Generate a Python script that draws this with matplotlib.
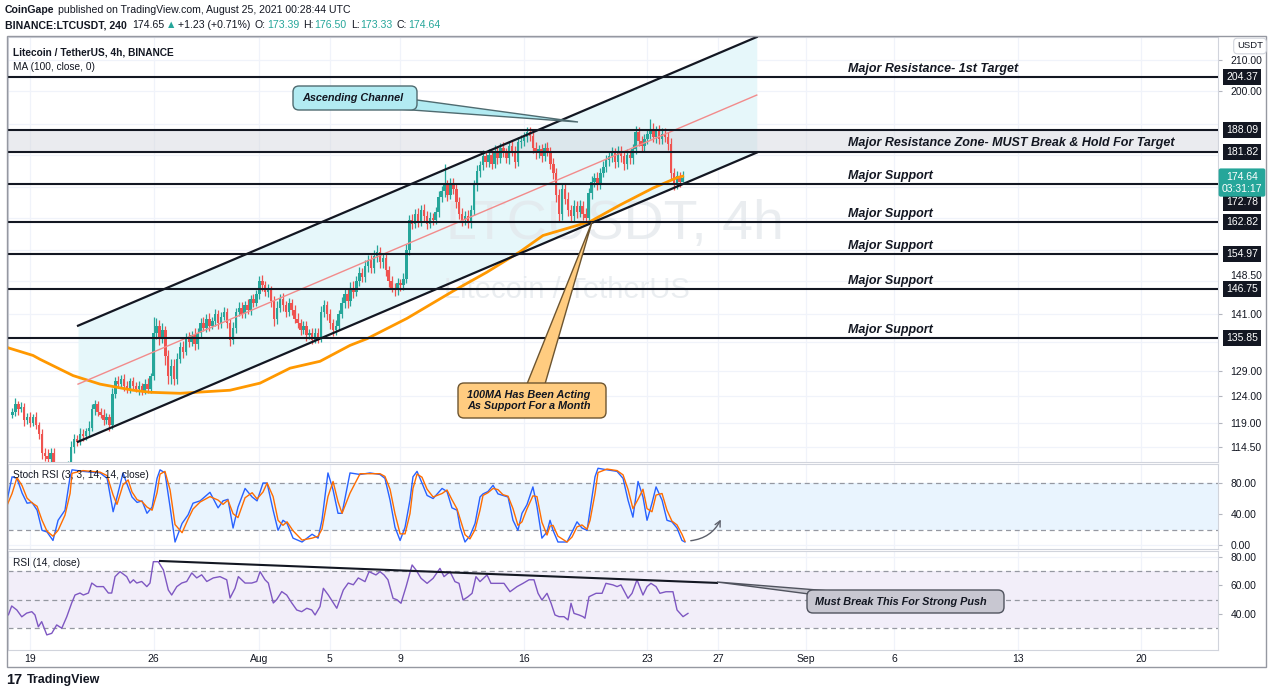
import numpy as np
import matplotlib
matplotlib.use('Agg')
import matplotlib.pyplot as plt
from matplotlib.patches import FancyBboxPatch, Polygon, Rectangle
from matplotlib.ticker import FixedLocator, NullFormatter, FuncFormatter

plt.rcParams['font.family'] = ['Liberation Sans', 'DejaVu Sans']

# time unit: days since 2021-07-19 00:00 UTC, one candle = 4h
start_t = -1.0          # first candle Jul 18 00:00
first_open = 120.5

# 4h closes, one row per day (Jul 18 .. Aug 24) + the live Aug 25 candle
closes = [
    121.0, 122.5, 121.5, 122.0, 119.5, 120.0,   # Jul 18
    119.0, 120.0, 118.5, 117.0, 113.5, 113.0,   # Jul 19
    112.5, 113.5, 110.0, 107.0, 106.0, 107.5,   # Jul 20
    108.5, 111.0, 114.5, 116.0, 115.5, 117.0,   # Jul 21
    116.5, 117.5, 118.0, 121.5, 122.5, 121.0,   # Jul 22
    120.5, 119.5, 120.0, 118.5, 124.5, 127.0,   # Jul 23
    126.5, 127.5, 126.0, 125.5, 127.0, 126.0,   # Jul 24
    125.5, 126.0, 125.0, 126.5, 125.5, 128.0,   # Jul 25
    137.0, 138.5, 136.0, 137.5, 132.0, 128.0,   # Jul 26
    130.0, 127.5, 131.5, 134.0, 133.0, 136.0,   # Jul 27
    135.0, 136.5, 134.5, 137.0, 139.0, 138.0,   # Jul 28
    140.0, 138.5, 139.5, 141.0, 139.0, 140.5,   # Jul 29
    141.5, 139.0, 135.5, 138.0, 141.5, 142.5,   # Jul 30
    141.0, 143.0, 142.0, 144.5, 143.5, 145.5,   # Jul 31
    148.5, 147.5, 146.0, 146.5, 144.0, 140.0,   # Aug 1
    142.5, 144.5, 143.0, 141.5, 143.5, 142.0,   # Aug 2
    140.0, 139.0, 137.5, 138.5, 136.5, 137.0,   # Aug 3
    135.5, 137.0, 136.0, 141.5, 143.0, 141.0,   # Aug 4
    139.0, 137.5, 138.5, 141.0, 143.5, 145.5,   # Aug 5
    144.0, 147.0, 146.0, 148.5, 150.5, 149.5,   # Aug 6
    152.0, 153.5, 151.5, 154.5, 155.5, 153.0,   # Aug 7
    154.0, 151.0, 148.5, 147.0, 146.5, 148.0,   # Aug 8
    147.5, 149.0, 156.0, 163.5, 162.5, 165.0,   # Aug 9
    163.0, 166.0, 164.5, 162.5, 164.0, 163.5,   # Aug 10
    165.5, 169.5, 171.0, 172.5, 170.0, 173.0,   # Aug 11
    171.5, 168.0, 165.0, 163.5, 164.5, 163.0,   # Aug 12
    166.0, 172.5, 176.5, 178.0, 180.5, 179.0,   # Aug 13
    181.0, 178.5, 182.0, 180.0, 183.0, 181.5,   # Aug 14
    180.0, 183.5, 182.0, 179.0, 184.5, 185.0,   # Aug 15
    186.0, 187.5, 186.5, 183.0, 181.5, 182.5,   # Aug 16
    180.5, 183.0, 182.0, 178.5, 176.0, 170.0,   # Aug 17
    165.0, 171.5, 169.0, 166.0, 164.5, 167.0,   # Aug 18
    165.5, 167.0, 165.0, 164.0, 170.5, 173.5,   # Aug 19
    174.5, 173.0, 176.0, 177.5, 179.5, 180.5,   # Aug 20
    181.5, 179.0, 182.0, 180.5, 178.5, 181.0,   # Aug 21
    180.0, 182.5, 187.5, 185.0, 183.5, 185.5,   # Aug 22
    187.0, 188.5, 186.0, 188.0, 185.5, 187.0,   # Aug 23
    186.0, 184.0, 176.0, 173.0, 175.0, 173.39,  # Aug 24
    174.64,                                     # Aug 25
]
wick_up = [
    0.8, 1.2, 0.6, 1.0, 0.7, 0.9,  1.0, 0.7, 1.1, 0.6, 0.9, 0.8,
    1.2, 0.9, 0.8, 1.0, 0.7, 1.1,  0.8, 1.0, 1.2, 0.9, 0.7, 1.0,
    0.9, 0.6, 1.3, 1.0, 0.8, 0.7,  0.7, 1.0, 0.8, 0.6, 1.2, 0.9,
    1.1, 0.8, 0.9, 1.0, 0.7, 0.8,  0.8, 1.0, 0.6, 0.9, 1.1, 0.7,
    3.5, 1.6, 1.2, 1.5, 1.0, 1.3,  1.4, 1.5, 1.2, 1.0, 1.3, 0.9,
    1.2, 0.9, 1.4, 1.0, 1.1, 1.3,  1.0, 1.3, 0.8, 1.2, 0.9, 1.0,
    1.1, 0.9, 1.0, 1.3, 0.8, 1.2,  1.2, 1.0, 1.3, 0.9, 1.1, 1.0,
    1.2, 1.5, 1.1, 1.3, 0.9, 1.2,  1.4, 1.1, 1.3, 0.9, 1.2, 1.0,
    1.0, 1.2, 0.9, 1.1, 1.0, 0.8,  0.9, 1.1, 1.0, 1.3, 1.2, 0.9,
    1.1, 0.9, 1.2, 1.0, 1.3, 1.1,  1.3, 1.2, 1.5, 1.1, 1.4, 1.2,
    1.4, 1.2, 1.3, 1.5, 1.6, 1.2,  1.2, 1.4, 1.1, 1.3, 1.0, 1.2,
    1.1, 1.3, 1.5, 1.2, 1.4, 1.3,  1.5, 1.3, 1.6, 1.2, 1.4, 1.3,
    1.3, 1.5, 1.4, 6.0, 1.6, 1.4,  1.5, 1.4, 1.3, 1.6, 1.2, 1.4,
    1.4, 1.6, 1.5, 1.3, 1.7, 1.5,  1.6, 1.4, 1.7, 1.5, 1.3, 1.6,
    1.5, 1.3, 1.6, 1.4, 1.5, 1.7,  1.6, 1.5, 1.4, 1.6, 1.5, 1.3,
    1.5, 1.4, 1.6, 1.3, 1.5, 1.4,  1.6, 1.4, 1.5, 1.7, 1.3, 1.5,
    1.4, 1.6, 1.3, 1.5, 1.4, 1.6,  1.5, 1.7, 1.4, 1.6, 1.5, 1.3,
    1.7, 1.5, 1.6, 1.4, 1.6, 1.5,  1.4, 1.6, 1.8, 1.5, 1.4, 1.6,
    1.5, 3.0, 1.6, 1.4, 1.5, 1.7,  1.6, 1.5, 1.7, 1.4, 1.5, 1.3,
    1.86,
]
wick_dn = [
    0.6, 0.8, 1.0, 0.5, 1.2, 0.7,  0.8, 0.6, 0.7, 1.0, 1.1, 0.9,
    0.9, 1.5, 2.0, 1.6, 1.8, 0.8,  0.7, 0.9, 0.6, 1.1, 0.8, 0.6,
    0.8, 0.7, 0.9, 0.6, 1.0, 0.8,  0.6, 0.9, 0.7, 1.0, 0.6, 0.8,
    0.9, 0.7, 1.0, 0.8, 0.9, 0.6,  0.7, 1.2, 0.8, 0.6, 0.9, 0.8,
    0.8, 1.4, 1.6, 1.2, 1.8, 1.5,  1.5, 1.2, 1.0, 0.9, 1.3, 0.8,
    1.0, 0.8, 1.1, 0.9, 1.2, 0.7,  0.9, 1.1, 0.8, 1.0, 1.2, 0.9,
    0.8, 1.0, 1.4, 0.9, 1.0, 0.8,  0.9, 0.8, 1.0, 1.1, 0.9, 0.7,
    1.0, 1.2, 0.9, 1.1, 1.3, 1.5,  1.1, 0.9, 1.2, 1.0, 0.8, 1.1,
    0.9, 1.1, 1.0, 0.8, 1.2, 0.9,  1.0, 0.8, 1.1, 0.9, 1.0, 1.2,
    1.2, 1.3, 0.9, 1.0, 0.8, 1.0,  1.5, 1.1, 1.3, 1.0, 1.2, 1.1,
    1.1, 1.3, 1.2, 1.0, 1.4, 1.3,  1.3, 1.2, 1.4, 1.1, 1.5, 1.2,
    1.2, 1.1, 1.0, 1.4, 1.3, 1.2,  1.4, 1.2, 1.5, 1.3, 1.1, 1.4,
    1.2, 1.4, 1.3, 1.5, 1.6, 1.2,  1.3, 1.6, 1.4, 1.5, 1.3, 1.5,
    1.5, 1.3, 1.4, 1.6, 1.2, 1.4,  1.4, 1.6, 1.3, 1.5, 1.4, 1.2,
    1.3, 1.5, 1.4, 1.6, 1.3, 1.5,  1.4, 1.3, 1.5, 1.4, 1.6, 1.5,
    1.6, 1.4, 1.3, 1.5, 1.7, 1.8,  1.8, 1.5, 1.4, 1.6, 1.5, 1.3,
    1.5, 1.4, 1.6, 1.2, 1.3, 1.5,  1.4, 1.6, 1.5, 1.3, 1.4, 1.6,
    1.5, 1.6, 1.4, 1.5, 1.7, 1.4,  1.6, 1.5, 1.4, 1.6, 1.5, 1.4,
    1.4, 1.6, 1.5, 1.7, 1.4, 1.5,  1.5, 1.7, 1.8, 1.6, 1.5, 1.4,
    0.06,
]

# MA(100, close)
ma_t = [-1.25, 0.17, 0.57, 2.44, 3.97, 5.84, 6.8, 8.5, 11.34, 13.04, 14.74, 16.44,
        18.14, 19.1, 21.37, 23.98, 25.9, 27.78, 29.08, 31.75, 33.45, 35.32, 36.68, 37.0]
ma_v = [133.8, 132.2, 131.4, 128.1, 126.4, 125.2, 124.8, 124.6, 125.2, 126.6, 129.6, 131.0,
        134.3, 135.7, 140.1, 146.2, 150.6, 155.5, 159.5, 163.0, 167.3, 171.8, 174.6, 175.0]

# Stoch RSI %K (3, 3, 14, 14)
stoch_t = [-1.42, -1.02, -0.74, -0.45, -0.17, 0.11, 0.40, 0.68, 0.96, 1.30,
           1.59, 1.98, 2.27, 2.38, 3.00, 3.97, 4.37, 4.71, 4.93, 5.27,
           5.56, 5.78, 6.07, 6.35, 6.63, 6.92, 7.20, 7.37, 7.65, 7.94,
           8.22, 8.62, 8.96, 9.24, 9.64, 10.20, 10.66, 10.94, 11.22, 11.51,
           11.79, 12.19, 12.59, 12.87, 13.21, 13.44, 13.78, 14.06, 14.34, 14.57,
           14.91, 15.42, 15.99, 16.33, 16.55, 16.89, 17.18, 17.46, 17.69, 18.14,
           18.71, 19.27, 19.84, 20.12, 20.41, 20.69, 20.98, 21.26, 21.54, 21.71,
           21.94, 22.22, 22.51, 22.85, 23.36, 23.64, 23.92, 24.21, 24.38, 24.66,
           24.94, 25.23, 25.51, 25.68, 25.96, 26.25, 26.53, 26.81, 27.10, 27.38,
           27.66, 27.89, 28.17, 28.51, 28.74, 29.02, 29.31, 29.48, 29.65, 29.93,
           30.44, 30.73, 31.01, 31.29, 31.58, 31.75, 32.03, 32.20, 32.71, 33.28,
           33.62, 33.90, 34.18, 34.47, 34.75, 34.98, 35.26, 35.49, 35.83, 36.11,
           36.39, 36.68, 36.96, 37.13]
stoch_k = [45, 88, 86, 67, 54, 55, 45, 19, 17, 6,
           32, 45, 88, 97, 95, 93, 86, 43, 62, 93,
           75, 62, 55, 57, 41, 49, 86, 97, 93, 49,
           4, 28, 39, 54, 57, 68, 48, 57, 59, 22,
           49, 73, 62, 57, 80, 80, 45, 19, 32, 28,
           9, 4, 14, 9, 32, 93, 71, 41, 41, 93,
           91, 93, 91, 86, 58, 23, 6, 23, 58, 88,
           95, 80, 64, 60, 73, 69, 48, 45, 23, 4,
           12, 28, 62, 66, 69, 77, 66, 64, 62, 32,
           19, 41, 52, 75, 50, 9, 17, 32, 19, 4,
           4, 17, 30, 22, 19, 45, 88, 99, 97, 95,
           86, 58, 36, 82, 62, 32, 54, 75, 58, 32,
           30, 22, 6, 4]

# RSI (14, close)
rsi_t = [-1.42, -1.23, -1.04, -0.75, -0.47, -0.19, 0.10, 0.28, 0.47, 0.66,
         0.95, 1.23, 1.51, 1.80, 2.08, 2.36, 2.55, 2.83, 3.02, 3.31,
         3.50, 3.78, 4.16, 4.44, 4.63, 4.82, 5.10, 5.48, 5.67, 5.86,
         6.05, 6.33, 6.62, 6.80, 6.99, 7.27, 7.56, 7.84, 8.03, 8.32,
         8.60, 8.88, 9.17, 9.45, 9.73, 10.02, 10.39, 10.77, 11.15, 11.34,
         11.62, 11.81, 12.19, 12.57, 12.85, 13.04, 13.32, 13.51, 13.79, 13.98,
         14.27, 14.55, 14.84, 15.12, 15.40, 15.69, 15.97, 16.16, 16.44, 16.63,
         16.91, 17.39, 17.76, 18.04, 18.33, 18.61, 18.99, 19.22, 19.61, 19.84,
         20.07, 20.29, 20.58, 20.80, 21.03, 21.32, 21.66, 21.88, 22.17, 22.51,
         22.85, 23.24, 23.47, 23.81, 24.09, 24.32, 24.55, 24.83, 25.06, 25.28,
         25.51, 25.91, 26.13, 26.47, 26.87, 27.21, 27.61, 27.95, 28.29, 28.57,
         28.80, 29.02, 29.31, 29.54, 29.76, 29.99, 30.27, 30.50, 30.67, 30.84,
         31.12, 31.35, 31.46, 31.69, 32.09, 32.43, 32.65, 33.05, 33.28, 33.50,
         33.90, 34.13, 34.41, 34.75, 34.98, 35.20, 35.49, 35.71, 36.05, 36.45,
         36.68, 37.02, 37.30]
rsi_v = [41.6, 39.3, 45.6, 42.8, 38.0, 40.6, 41.6, 39.3, 31.0, 34.6,
         25.3, 26.4, 32.3, 30.0, 38.0, 47.7, 53.3, 54.7, 53.3, 54.7,
         61.7, 59.2, 59.2, 54.7, 54.7, 66.2, 69.7, 66.2, 61.7, 64.0,
         61.7, 62.8, 59.2, 61.7, 76.7, 76.7, 70.9, 56.8, 53.3, 59.2,
         61.7, 62.8, 68.8, 65.3, 67.5, 62.8, 65.3, 66.2, 64.0, 51.2,
         58.0, 66.2, 61.7, 61.7, 62.8, 69.7, 64.0, 61.7, 47.7, 50.0,
         55.7, 53.3, 47.7, 42.8, 41.6, 44.0, 42.8, 39.3, 45.2, 58.0,
         53.3, 44.0, 56.8, 61.7, 60.5, 65.3, 62.7, 69.7, 67.4, 69.7,
         67.4, 64.0, 51.0, 50.0, 47.5, 59.2, 74.4, 70.9, 65.0, 61.5,
         65.0, 72.0, 66.2, 69.7, 62.7, 61.5, 49.8, 52.1, 54.5, 66.2,
         62.7, 67.4, 61.5, 61.5, 61.5, 55.6, 59.2, 61.5, 64.0, 64.0,
         54.5, 49.8, 54.5, 47.5, 39.3, 38.1, 38.1, 35.8, 47.5, 40.4,
         39.3, 38.1, 37.0, 52.1, 54.5, 54.5, 61.5, 60.4, 59.2, 60.4,
         51.0, 54.5, 64.0, 53.3, 59.2, 61.5, 59.2, 54.5, 55.6, 55.6,
         42.8, 38.1, 40.4]

# drawings
levels = [204.37, 188.09, 181.82, 172.78, 162.82, 154.97, 146.75, 135.85]
support_levels = [172.78, 162.82, 154.97, 146.75, 135.85]
zone = (181.82, 188.09)
chan_t = [2.72, 41.2]
chan_top = [138.5, 217.6]
chan_mid = [126.4, 198.7]
chan_bot = [115.5, 181.6]
rsi_line_t = [7.37, 38.95]
rsi_line_v = [77.2, 61.8]
label_t = 46.37

date_ticks = [0, 7, 13, 17, 21, 28, 35, 39, 44, 49, 56, 63]
date_labels = ['19', '26', 'Aug', '5', '9', '16', '23', '27', 'Sep', '6', '13', '20']
price_ticks = [114.5, 119, 124, 129, 141, 200, 210]
hidden_ticks = [135, 148.5, 156, 164, 172, 181, 190]   # grid only, labels mostly covered
squeezed_tick = 148.5                                   # label nudged above the 146.75 box

UP, DOWN, INK = '#26a69a', '#ef5350', '#131722'

W, H = 1280, 695
fig = plt.figure(figsize=(W / 100, H / 100), dpi=100)


def pbox(x0, y0, x1, y1):
    return [x0 / W, 1 - y1 / H, (x1 - x0) / W, (y1 - y0) / H]


ax = fig.add_axes(pbox(8, 37, 1218, 462))
ax_st = fig.add_axes(pbox(8, 464, 1218, 549))
ax_rsi = fig.add_axes(pbox(8, 551, 1218, 650))
fmt2 = FuncFormatter(lambda v, p: f'{v:.2f}')

ax.set_yscale('log')
ax.set_ylim(111.9, 217.6)
ax.yaxis.set_major_locator(FixedLocator(price_ticks))
ax.yaxis.set_minor_locator(FixedLocator(hidden_ticks))
ax.yaxis.set_minor_formatter(NullFormatter())
ax.tick_params(axis='y', which='minor', length=0)
ax_st.set_ylim(-5, 104.5)
ax_st.yaxis.set_major_locator(FixedLocator([0, 40, 80]))
ax_rsi.set_ylim(14.7, 84.2)
ax_rsi.yaxis.set_major_locator(FixedLocator([40, 60, 80]))

for a in (ax, ax_st, ax_rsi):
    a.set_xlim(-1.25, 67.35)
    a.xaxis.set_major_locator(FixedLocator(date_ticks))
    a.yaxis.set_major_formatter(fmt2)
    a.grid(True, which='both', color='#f0f3fa', lw=0.9)
    a.set_axisbelow(True)
    a.yaxis.tick_right()
    a.tick_params(axis='y', labelsize=7.5, labelcolor=INK, color='#b2b5be', length=3, pad=6)
    a.tick_params(axis='x', length=0, labelbottom=False)
    for s in a.spines.values():
        s.set_color('#d1d4dc')
        s.set_linewidth(0.8)
ax_rsi.tick_params(axis='x', labelbottom=True, labelsize=7.5, labelcolor=INK, pad=3)
ax_rsi.set_xticklabels(date_labels)

# --- price pane ---
ax.fill_between(chan_t, chan_bot, chan_top, color='#e6f7fa', lw=0, zorder=1)
ax.axhspan(zone[0], zone[1], color='#d1d4dc', alpha=0.45, lw=0, zorder=1.2)
ax.text(0.502, 0.558, 'LTCUSDT, 4h', transform=ax.transAxes, ha='center', va='center',
        fontsize=40, color='#e3e8ec', alpha=0.75, zorder=1.4)
ax.text(0.462, 0.405, 'Litecoin / TetherUS', transform=ax.transAxes, ha='center', va='center',
        fontsize=21, color='#e3e8ec', alpha=0.75, zorder=1.4)

n = len(closes)
t = start_t + np.arange(n) / 6
c = np.array(closes)
o = np.r_[first_open, c[:-1]]
hi = np.maximum(o, c) + np.array(wick_up)
lo = np.minimum(o, c) - np.array(wick_dn)
col = np.where(c >= o, UP, DOWN)
ax.vlines(t, lo, hi, colors=col, lw=0.9, zorder=4)
ax.bar(t, np.maximum(np.abs(c - o), 0.2), bottom=np.minimum(o, c), width=0.14,
       color=col, lw=0, zorder=4.5)

ax.plot(ma_t, ma_v, color='#ff9800', lw=2, zorder=5)
ax.plot(chan_t, chan_mid, color='#f28b8b', lw=1, zorder=5.5)
ax.plot(chan_t, chan_top, color=INK, lw=1.6, zorder=6)
ax.plot(chan_t, chan_bot, color=INK, lw=1.6, zorder=6)
for v in levels:
    ax.axhline(v, color=INK, lw=1.5, zorder=6)

lab = dict(fontsize=9, weight='bold', style='italic', color=INK, zorder=7)
ax.annotate('Major Resistance- 1st Target', xy=(label_t, levels[0]), xytext=(0, 2),
            textcoords='offset pixels', va='bottom', **lab)
ax.annotate('Major Resistance Zone- MUST Break & Hold For Target',
            xy=(label_t, np.sqrt(zone[0] * zone[1])), xytext=(0, -2),
            textcoords='offset pixels', va='center', **lab)
for v in support_levels:
    ax.annotate('Major Support', xy=(label_t, v), xytext=(0, 2),
                textcoords='offset pixels', va='bottom', **lab)

ax.annotate(f'{squeezed_tick:.2f}', xy=(1, squeezed_tick), xycoords=('axes fraction', 'data'),
            xytext=(12.5, 5), textcoords='offset pixels', ha='left', va='center',
            fontsize=7.5, color=INK, annotation_clip=False, zorder=19)
for v in levels:
    dy = -18 if v == 172.78 else 0
    ax.annotate(f'{v:.2f}', xy=(1, v), xycoords=('axes fraction', 'data'), xytext=(24, dy),
                textcoords='offset pixels', ha='center', va='center', fontsize=7.5, color='white',
                bbox=dict(boxstyle='square,pad=0.3', fc=INK, ec='none'),
                annotation_clip=False, zorder=20)
ax.annotate(f'{closes[-1]:.2f}\n03:31:17', xy=(1, closes[-1]), xycoords=('axes fraction', 'data'),
            xytext=(24, -5), textcoords='offset pixels', ha='center', va='center', fontsize=7.5,
            color='white', linespacing=1.25,
            bbox=dict(boxstyle='round,pad=0.3,rounding_size=0.2', fc=UP, ec='none'),
            annotation_clip=False, zorder=21)

ax.text(0.004, 0.975, 'Litecoin / TetherUS, 4h, BINANCE', transform=ax.transAxes,
        fontsize=7.3, color=INK, va='top', weight='bold', zorder=8)
ax.text(0.004, 0.94, 'MA (100, close, 0)', transform=ax.transAxes,
        fontsize=7.3, color=INK, va='top', zorder=8)

# --- stoch RSI pane ---
k = np.array(stoch_k, dtype=float)
d = np.r_[k[0], (k[1:] + k[:-1]) / 2]
ax_st.axhspan(20, 80, color='#e9f4fe', lw=0, zorder=0.6)
for v in (80, 20):
    ax_st.axhline(v, color='#9598a1', lw=0.9, ls=(0, (4, 3)), zorder=1)
ax_st.plot(stoch_t, k, color='#2962ff', lw=1, zorder=3)
ax_st.plot(stoch_t, d, color='#ff6d00', lw=1, zorder=3)
ax_st.text(0.004, 0.93, 'Stoch RSI (3, 3, 14, 14, close)', transform=ax_st.transAxes,
           fontsize=7.3, color=INK, va='top', zorder=8)

# --- RSI pane ---
ax_rsi.axhspan(30, 70, color='#f2eef9', lw=0, zorder=0.6)
for v in (70, 50, 30):
    ax_rsi.axhline(v, color='#9598a1', lw=0.9, ls=(0, (4, 3)), zorder=1)
ax_rsi.plot(rsi_t, rsi_v, color='#7e57c2', lw=1, zorder=3)
ax_rsi.plot(rsi_line_t, rsi_line_v, color=INK, lw=1.5, zorder=4)
ax_rsi.text(0.004, 0.93, 'RSI (14, close)', transform=ax_rsi.transAxes,
            fontsize=7.3, color=INK, va='top', zorder=8)

# --- overlay in pixel coordinates ---
ov = fig.add_axes([0, 0, 1, 1], zorder=10)
ov.set_xlim(0, W)
ov.set_ylim(H, 0)
ov.axis('off')
ov.patch.set_alpha(0)

ov.add_patch(Rectangle((7, 36), 1259, 631, fill=False, ec='#9598a1', lw=1))
ov.text(1250, 46, 'USDT', fontsize=6.8, color=INK, ha='center', va='center',
        bbox=dict(boxstyle='round,pad=0.35,rounding_size=0.4', fc='white', ec='#d1d4dc', lw=0.8))

renderer = fig.canvas.get_renderer()


def runs(x, y, parts, size):
    for s, colr, wt, gap in parts:
        tx = ov.text(x, y, s, color=colr, fontsize=size, weight=wt, va='center', ha='left')
        x += tx.get_window_extent(renderer=renderer).width + gap


runs(5, 10, [('CoinGape', INK, 'bold', 3),
             ('published on TradingView.com, August 25, 2021 00:28:44 UTC', INK, 'normal', 0)], 7.6)
runs(5, 25, [('BINANCE:LTCUSDT, 240', INK, 'bold', 5), ('174.65', INK, 'normal', 2),
             ('▲', UP, 'normal', 2), ('+1.23 (+0.71%)', INK, 'normal', 4),
             ('O:', INK, 'normal', 1), ('173.39', UP, 'normal', 4),
             ('H:', INK, 'normal', 1), ('176.50', UP, 'normal', 4),
             ('L:', INK, 'normal', 1), ('173.33', UP, 'normal', 4),
             ('C:', INK, 'normal', 1), ('174.64', UP, 'normal', 0)], 7.6)

ov.text(6, 680, '17', fontsize=10.5, weight='bold', color=INK, va='center')
ov.text(27, 680, 'TradingView', fontsize=9, weight='bold', color=INK, va='center')


def callout(box, tail, fc, ec, lines, tx, ty, dy=11):
    ov.add_patch(Polygon(tail, closed=True, fc=fc, ec=ec, lw=1, zorder=1))
    x0, y0, x1, y1 = box
    ov.add_patch(FancyBboxPatch((x0, y0), x1 - x0, y1 - y0,
                                boxstyle='round,pad=0,rounding_size=6',
                                fc=fc, ec=ec, lw=1, zorder=2))
    for i, s in enumerate(lines):
        ov.text(tx, ty + i * dy, s, fontsize=7.8, weight='bold', style='italic',
                color=INK, va='center', ha='left', zorder=3)


callout((293, 86, 417, 110), [(398, 109), (417, 100), (578, 122)], '#b2ebf2', '#4f6b70',
        ['Ascending Channel'], 302, 98)
callout((458, 383, 606, 418), [(527, 384), (545, 384), (592, 222)], '#ffcc80', '#6d5530',
        ['100MA Has Been Acting', 'As Support For a Month'], 467, 395)
callout((807, 590, 1004, 613), [(809, 594), (830, 591), (717, 582)], '#c8c7d1', '#50535e',
        ['Must Break This For Strong Push'], 815, 602)

ov.annotate('', xy=(722, 517), xytext=(688, 541),
            arrowprops=dict(arrowstyle='->', color='#5d606b', lw=1,
                            connectionstyle='arc3,rad=0.3'))

fig.savefig('out.png', dpi=100, facecolor='white')
